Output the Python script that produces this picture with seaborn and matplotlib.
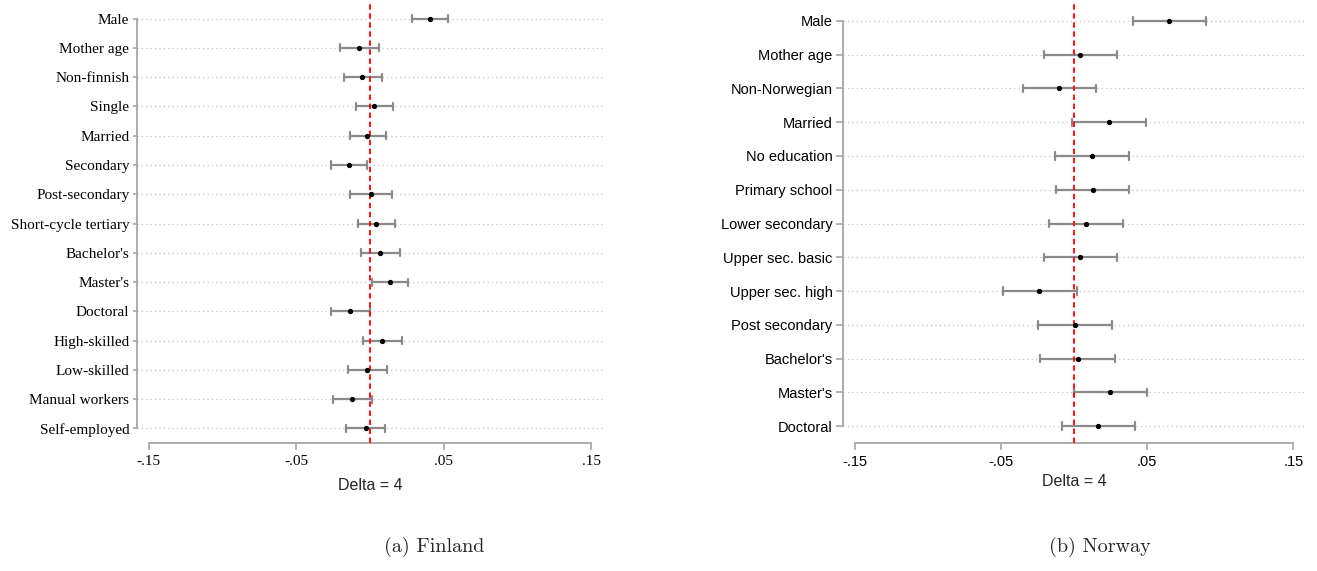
import pandas as pd
import matplotlib
matplotlib.use("Agg")
import matplotlib.pyplot as plt
import seaborn as sns

# Finland estimates with 95% CI
fi_labels = ["Male", "Mother age", "Non-finnish", "Single", "Married", "Secondary",
             "Post-secondary", "Short-cycle tertiary", "Bachelor's", "Master's",
             "Doctoral", "High-skilled", "Low-skilled", "Manual workers", "Self-employed"]
fi_est = [0.0403, -0.0074, -0.0053, 0.0028, -0.0018, -0.0144, 0.0007, 0.0042,
          0.0069, 0.0133, -0.0133, 0.0082, -0.0020, -0.0120, -0.0031]
fi_lo = [0.0282, -0.0206, -0.0179, -0.0098, -0.0136, -0.0268, -0.0133, -0.0082,
         -0.0063, 0.0012, -0.0266, -0.0050, -0.0150, -0.0249, -0.0160]
fi_hi = [0.0527, 0.0058, 0.0080, 0.0158, 0.0106, -0.0020, 0.0150, 0.0168,
         0.0204, 0.0257, -0.0001, 0.0217, 0.0112, 0.0012, 0.0104]

# Norway estimates with 95% CI
no_labels = ["Male", "Mother age", "Non-Norwegian", "Married", "No education",
             "Primary school", "Lower secondary", "Upper sec. basic", "Upper sec. high",
             "Post secondary", "Bachelor's", "Master's", "Doctoral"]
no_est = [0.0652, 0.0039, -0.0100, 0.0236, 0.0122, 0.0128, 0.0083, 0.0044,
          -0.0236, 0.0008, 0.0025, 0.0247, 0.0167]
no_lo = [0.0400, -0.0208, -0.0350, -0.0017, -0.0128, -0.0122, -0.0172, -0.0203,
         -0.0486, -0.0244, -0.0230, -0.0003, -0.0083]
no_hi = [0.0905, 0.0291, 0.0153, 0.0491, 0.0375, 0.0377, 0.0333, 0.0297,
         0.0019, 0.0261, 0.0278, 0.0500, 0.0419]

x_ticks = [-0.15, -0.05, 0.05, 0.15]
x_ticklabels = ["-.15", "-.05", ".05", ".15"]


def long_frame(labels, est, lo, hi):
    # three rows per variable so median = estimate and full range = CI
    rows = []
    for lab, e, l, h in zip(labels, est, lo, hi):
        for v in (l, e, h):
            rows.append({"variable": lab, "value": v})
    return pd.DataFrame(rows)


def coef_panel(ax, labels, est, lo, hi, font, tick_size, capsize, xlab_pad, ylen):
    df = long_frame(labels, est, lo, hi)
    n = len(labels)
    ax.grid(False)
    for i in range(n):
        ax.axhline(i, color="#c4c4c4", linestyle=(0, (1, 2.5)), lw=0.9, zorder=0)
    sns.pointplot(data=df, x="value", y="variable", order=labels,
                  estimator="median", errorbar=("pi", 100), color="black",
                  err_kws={"color": "#8a8a8a", "linewidth": 1.6},
                  capsize=capsize, linestyle="none", markers="o",
                  markersize=3.0, markeredgewidth=0.8, ax=ax)
    # keep the estimate dots above the CI lines
    for line in ax.lines:
        if line.get_marker() == "o":
            line.set_zorder(5)
    ax.axvline(0, color="red", linestyle=(0, (3, 2)), lw=1.3, zorder=3)
    ax.set_xlim(-0.158, 0.158)
    ax.set_ylim(n - 0.5, -0.5)
    ax.set_xticks(x_ticks)
    ax.set_xticklabels(x_ticklabels, fontfamily=font, fontsize=tick_size)
    ax.set_yticks(range(n))
    ax.set_yticklabels(labels, fontfamily=font, fontsize=tick_size)
    ax.set_ylabel("")
    ax.set_xlabel("Delta = 4", fontfamily="Liberation Sans", fontsize=11.5, labelpad=xlab_pad)
    for s in ["top", "right"]:
        ax.spines[s].set_visible(False)
    for s in ["left", "bottom"]:
        ax.spines[s].set_color("#a6a6a6")
        ax.spines[s].set_linewidth(1.3)
    ax.spines["left"].set_bounds(0, n - 1)
    ax.spines["bottom"].set_bounds(-0.15, 0.15)
    ax.tick_params(axis="x", bottom=True, color="#a6a6a6", length=5, width=1.2,
                   labelcolor="black")
    ax.tick_params(axis="y", left=True, color="#a6a6a6", length=ylen, width=1.2,
                   pad=2.5, labelcolor="black")
    ax.set_facecolor("white")


sns.set_style("white")
fig = plt.figure(figsize=(13.17, 5.71), dpi=100)
ax1 = fig.add_axes([0.104, 0.224, 0.354, 0.769])
ax2 = fig.add_axes([0.640, 0.224, 0.351, 0.769])

coef_panel(ax1, fi_labels, fi_est, fi_lo, fi_hi, "Liberation Serif", 11, 0.24, 7, 3)
coef_panel(ax2, no_labels, no_est, no_lo, no_hi, "Liberation Sans", 10.5, 0.22, 4, 5)

fig.text(0.330, 0.042, "(a) Finland", fontfamily="cmr10", fontsize=14.5, ha="center", va="center")
fig.text(0.835, 0.042, "(b) Norway", fontfamily="cmr10", fontsize=14.5, ha="center", va="center")

fig.savefig("out.png", dpi=100)
